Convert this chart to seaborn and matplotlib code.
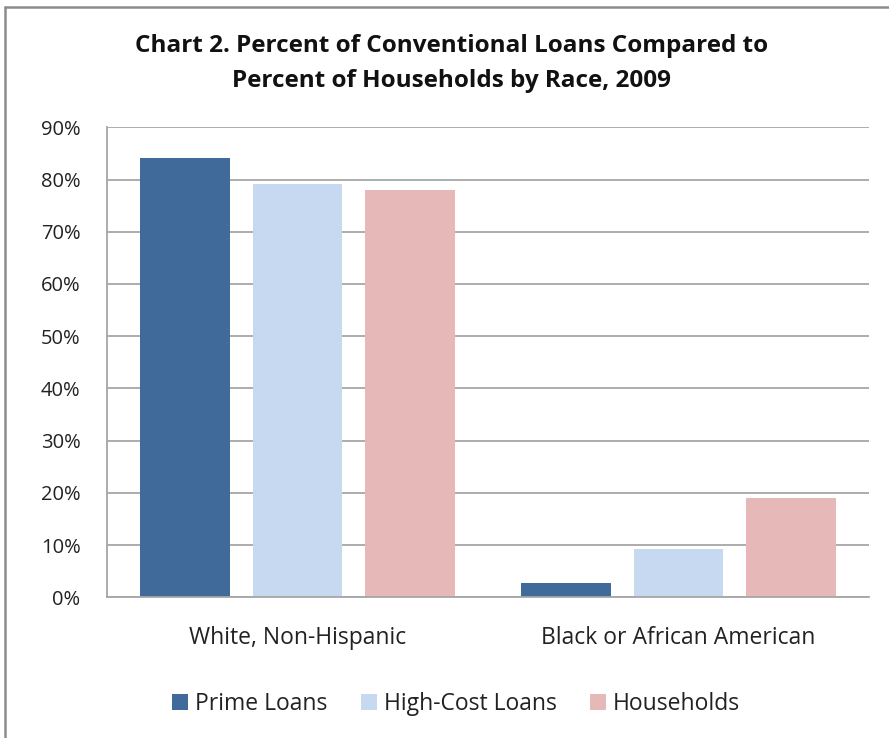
import matplotlib
matplotlib.use("Agg")
import matplotlib.pyplot as plt
import seaborn as sns
import pandas as pd
from matplotlib.lines import Line2D
from matplotlib.ticker import FuncFormatter

categories = ["White, Non-Hispanic", "Black or African American"]
series = ["Prime Loans", "High-Cost Loans", "Households"]
prime_loans = [84.2, 2.7]
high_cost_loans = [79.2, 9.3]
households = [77.9, 19.1]
colors = ["#3F6A9A", "#C6D9F0", "#E6B8B7"]

rows = []
for s, vals in zip(series, [prime_loans, high_cost_loans, households]):
    for c, v in zip(categories, vals):
        rows.append({"Race": c, "Series": s, "Percent": v})
df = pd.DataFrame(rows)

sns.set_theme(style="white")
plt.rcParams["font.family"] = ["Open Sans", "DejaVu Sans"]

fig = plt.figure(figsize=(8.89, 7.38), dpi=100)
ax = fig.add_axes([107/889, 1-597.3/738, (869-107)/889, (597.3-127.3)/738])

sns.barplot(data=df, x="Race", y="Percent", hue="Series", hue_order=series,
            palette=colors, width=0.885, gap=0.2, ax=ax, saturation=1,
            edgecolor="none", linewidth=0, legend=True)

ax.set_ylim(0, 90)
ax.set_xlim(-0.5, 1.5)
ax.set_yticks(range(0, 91, 10))
ax.yaxis.set_major_formatter(FuncFormatter(lambda v, p: f"{int(v)}%"))
ax.grid(axis="y", color="#A6A6A6", linewidth=1.3)
ax.set_axisbelow(True)
for side in ["top", "right"]:
    ax.spines[side].set_visible(False)
ax.spines["left"].set_color("#A6A6A6")
ax.spines["left"].set_linewidth(1.3)
ax.spines["bottom"].set_color("#A6A6A6")
ax.spines["bottom"].set_linewidth(1.3)
ax.tick_params(axis="y", length=0, pad=19, labelsize=14.5, labelcolor="#222222")
ax.tick_params(axis="x", length=0, pad=21, labelsize=16.5, labelcolor="#222222")
ax.set_xlabel("")
ax.set_ylabel("")

leg = ax.get_legend()
handles, labels = ax.get_legend_handles_labels()
leg.remove()
fig.legend(handles, labels, loc="center", bbox_to_anchor=(456/889, 1-704/738),
           ncol=3, frameon=False, fontsize=16.5, handlelength=0.7, handleheight=0.7,
           handletextpad=0.3, columnspacing=1.45, labelcolor="#222222")

fig.text(452/889, 1-46/738, "Chart 2. Percent of Conventional Loans Compared to",
         ha="center", va="center", fontsize=17.5, fontweight="bold", color="#111111")
fig.text(452/889, 1-81/738, "Percent of Households by Race, 2009",
         ha="center", va="center", fontsize=17.5, fontweight="bold", color="#111111")

# outer chart border (top and left visible)
fig.add_artist(Line2D([5/889, 1], [1-7/738, 1-7/738], transform=fig.transFigure,
                      color="#8C8C8C", linewidth=1.8))
fig.add_artist(Line2D([5/889, 5/889], [0, 1-7/738], transform=fig.transFigure,
                      color="#8C8C8C", linewidth=1.8))

fig.savefig("out.png", dpi=100)
